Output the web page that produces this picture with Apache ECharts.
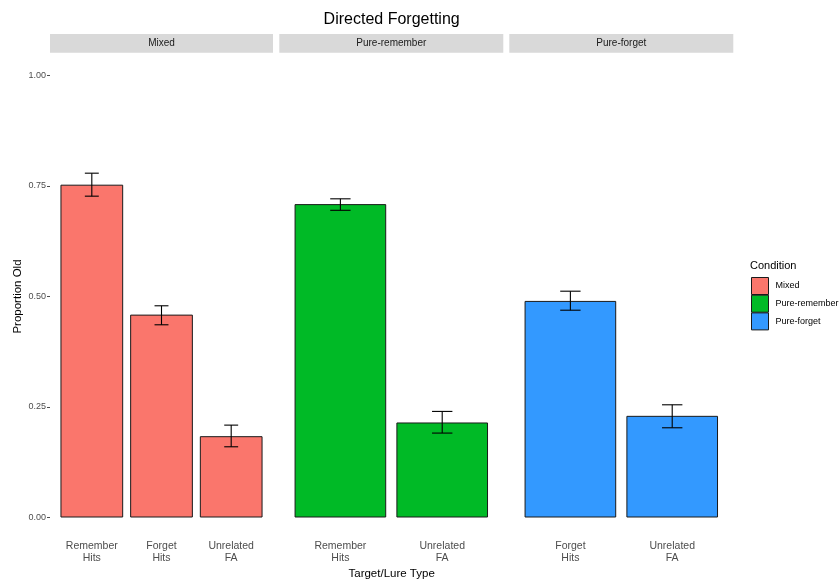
<!DOCTYPE html>
<html>
<head>
<meta charset="utf-8">
<script src="https://cdn.jsdelivr.net/npm/echarts@6/dist/echarts.min.js"></script>
<style>
  html, body { margin: 0; padding: 0; background: #fff; }
  #chart { width: 840px; height: 580px; }
</style>
</head>
<body>
<div id="chart"></div>
<script>
// Directed forgetting: proportion judged "old" per condition and item type
const chartTitle = 'Directed Forgetting';
const conditions = ['Mixed', 'Pure-remember', 'Pure-forget'];
const conditionColors = ['#FA766C', '#00BA26', '#3399FF'];
const yTicks = [0, 0.25, 0.5, 0.75, 1];

const mixedTypes = ['Remember\nHits', 'Forget\nHits', 'Unrelated\nFA'];
const mixedMeans = [0.753, 0.459, 0.184];
const mixedLower = [0.727, 0.436, 0.160];
const mixedUpper = [0.779, 0.479, 0.209];

const pureRememberTypes = ['Remember\nHits', 'Unrelated\nFA'];
const pureRememberMeans = [0.709, 0.215];
const pureRememberLower = [0.695, 0.191];
const pureRememberUpper = [0.721, 0.240];

const pureForgetTypes = ['Forget\nHits', 'Unrelated\nFA'];
const pureForgetMeans = [0.490, 0.230];
const pureForgetLower = [0.469, 0.203];
const pureForgetUpper = [0.512, 0.255];

const panels = [
  { name: conditions[0], types: mixedTypes, means: mixedMeans, lower: mixedLower, upper: mixedUpper },
  { name: conditions[1], types: pureRememberTypes, means: pureRememberMeans, lower: pureRememberLower, upper: pureRememberUpper },
  { name: conditions[2], types: pureForgetTypes, means: pureForgetMeans, lower: pureForgetLower, upper: pureForgetUpper }
];

// Facet layout (pixels)
const panelEdges = [[50, 273], [279.3, 503.3], [509.3, 733.3]];
const plotTop = 75.5;
const plotHeight = 442;
const stripTop = 34;
const stripHeight = 18.7;
const textFont = '"Liberation Sans", Arial, Helvetica, sans-serif';

const grids = [], xAxes = [], yAxes = [], series = [], graphics = [];

panels.forEach((p, i) => {
  const [l, r] = panelEdges[i];
  const w = r - l;
  const unit = w / (p.types.length + 0.2);   // discrete scale with 0.6 expansion each side
  const inset = unit * 0.1;
  grids.push({ left: l + inset, top: plotTop, width: w - 2 * inset, height: plotHeight, containLabel: false });

  xAxes.push({
    type: 'category', gridIndex: i, data: p.types,
    axisLine: { show: false }, axisTick: { show: false },
    axisLabel: { color: '#4d4d4d', fontSize: 10.5, lineHeight: 11.5, margin: 23, fontFamily: textFont, interval: 0 }
  });

  yAxes.push({
    type: 'value', gridIndex: i, min: yTicks[0], max: yTicks[yTicks.length - 1], interval: yTicks[1] - yTicks[0],
    show: i === 0, offset: inset,
    axisLine: { show: false },
    axisTick: { show: true, length: 3, lineStyle: { color: '#4d4d4d', width: 1 } },
    axisLabel: { color: '#4d4d4d', fontSize: 9, margin: 4, fontFamily: textFont, formatter: v => v.toFixed(2) },
    splitLine: { show: false },
    name: i === 0 ? 'Proportion Old' : '', nameLocation: 'middle', nameGap: 26,
    nameTextStyle: { color: '#000', fontSize: 11.5, fontFamily: textFont }
  });

  series.push({
    name: p.name, type: 'bar', xAxisIndex: i, yAxisIndex: i,
    data: p.means, barCategoryGap: '10%',
    itemStyle: { color: conditionColors[i], borderColor: '#1a1a1a', borderWidth: 1 },
    emphasis: { disabled: true }
  });

  series.push({
    name: p.name + ' error', type: 'custom', xAxisIndex: i, yAxisIndex: i,
    data: p.types.map((t, k) => [k, p.lower[k], p.upper[k]]),
    encode: { x: 0, y: [1, 2] },
    z: 5,
    renderItem: function (params, api) {
      const k = api.value(0);
      const lo = api.coord([k, api.value(1)]);
      const hi = api.coord([k, api.value(2)]);
      const half = api.size([1, 0])[0] * 0.1;
      const style = { stroke: '#000', lineWidth: 1.1 };
      return {
        type: 'group',
        children: [
          { type: 'line', shape: { x1: lo[0], y1: lo[1], x2: hi[0], y2: hi[1] }, style },
          { type: 'line', shape: { x1: hi[0] - half, y1: hi[1], x2: hi[0] + half, y2: hi[1] }, style },
          { type: 'line', shape: { x1: lo[0] - half, y1: lo[1], x2: lo[0] + half, y2: lo[1] }, style }
        ]
      };
    }
  });

  // Facet strip
  graphics.push({ type: 'rect', left: l, top: stripTop, shape: { width: w, height: stripHeight }, style: { fill: '#d9d9d9' }, silent: true });
  graphics.push({
    type: 'text', x: (l + r) / 2, y: stripTop + stripHeight / 2,
    style: { text: p.name, fill: '#1a1a1a', fontSize: 10, fontFamily: textFont, align: 'center', verticalAlign: 'middle' }
  });
});

const plotMid = (panelEdges[0][0] + panelEdges[2][1]) / 2;
graphics.push({
  type: 'text', x: plotMid, y: 19.5,
  style: { text: chartTitle, fill: '#000', fontSize: 16, fontFamily: textFont, align: 'center', verticalAlign: 'middle' }
});
graphics.push({
  type: 'text', x: plotMid, y: 573.5,
  style: { text: 'Target/Lure Type', fill: '#000', fontSize: 11.5, fontFamily: textFont, align: 'center', verticalAlign: 'middle' }
});
graphics.push({
  type: 'text', x: 750, y: 266,
  style: { text: 'Condition', fill: '#000', fontSize: 11, fontFamily: textFont, align: 'left', verticalAlign: 'middle' }
});

const chart = echarts.init(document.getElementById('chart'), null, { renderer: 'canvas' });
chart.setOption({
  animation: false,
  backgroundColor: '#fff',
  grid: grids,
  xAxis: xAxes,
  yAxis: yAxes,
  series: series,
  graphic: graphics,
  legend: {
    data: conditions, orient: 'vertical', left: 751, top: 277, padding: 0,
    itemWidth: 17, itemHeight: 17, itemGap: -0.3, icon: 'rect',
    selectedMode: false,
    itemStyle: { borderColor: '#1a1a1a', borderWidth: 1 },
    textStyle: { color: '#000', fontSize: 9, fontFamily: textFont, padding: [0, 0, 0, 2] }
  }
});
</script>
</body>
</html>
